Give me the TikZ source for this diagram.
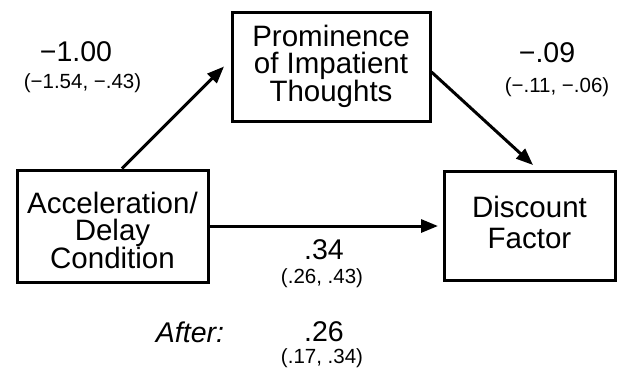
\documentclass[tikz,border=0pt]{standalone}
\usepackage{fontspec}
\setmainfont{Liberation Sans}
\usetikzlibrary{arrows.meta}

\begin{document}
\begin{tikzpicture}[x=1pt,y=-1pt,
        box/.style={draw, line width=3pt, align=center, inner sep=0pt,
            font=\fontsize{29.5}{27}\selectfont},
        coef/.style={inner sep=0pt, font=\fontsize{28.5}{30}\selectfont},
        ci/.style={inner sep=0pt, font=\fontsize{20.5}{22}\selectfont},
        arr/.style={line width=3pt, -{Triangle[length=17pt,width=13pt]}}]
            \useasboundingbox (0,0) rectangle (617,376);
            \node[box, minimum width=198pt, minimum height=109pt] (prom) at (331,66.5)
                {Prominence\\of Impatient\\Thoughts};
            \node[box, minimum width=191pt, minimum height=112pt] (cond) at (112.5,226)
                {\rule{0pt}{30pt}Acceleration/\\Delay\\Condition};
            \node[box, minimum width=171pt, minimum height=109pt,
                font=\fontsize{29.5}{31}\selectfont] (disc) at (529.5,226)
                {Discount\\Factor\rule[-8pt]{0pt}{0pt}};
            \draw[arr] ([xshift=9.5pt]cond.north) -- ([xshift=-6.5pt]prom.west);
            \draw[arr] ([yshift=-5.5pt]prom.east) -- ([shift={(3.5pt,5pt)}]disc.north);
            \draw[arr] (cond.east) -- ([xshift=-4.5pt]disc.west);
            \node[coef] (ab) at (76,52) {−1.00};
            \node[ci] (abci) at (82.5,83) {(−1.54, −.43)};
            \node[coef] (bc) at (547,53) {−.09};
            \node[ci] (bcci) at (557,87) {(−.11, −.06)};
            \node[coef] (ac) at (324,250) {.34};
            \node[ci] (acci) at (322,278) {(.26, .43)};
            \node[coef, font=\fontsize{28.5}{30}\selectfont\itshape] (after) at (190,332) {After:};
            \node[coef] (ad) at (324,332) {.26};
            \node[ci] (adci) at (322,358) {(.17, .34)};
\end{tikzpicture}
\end{document}
